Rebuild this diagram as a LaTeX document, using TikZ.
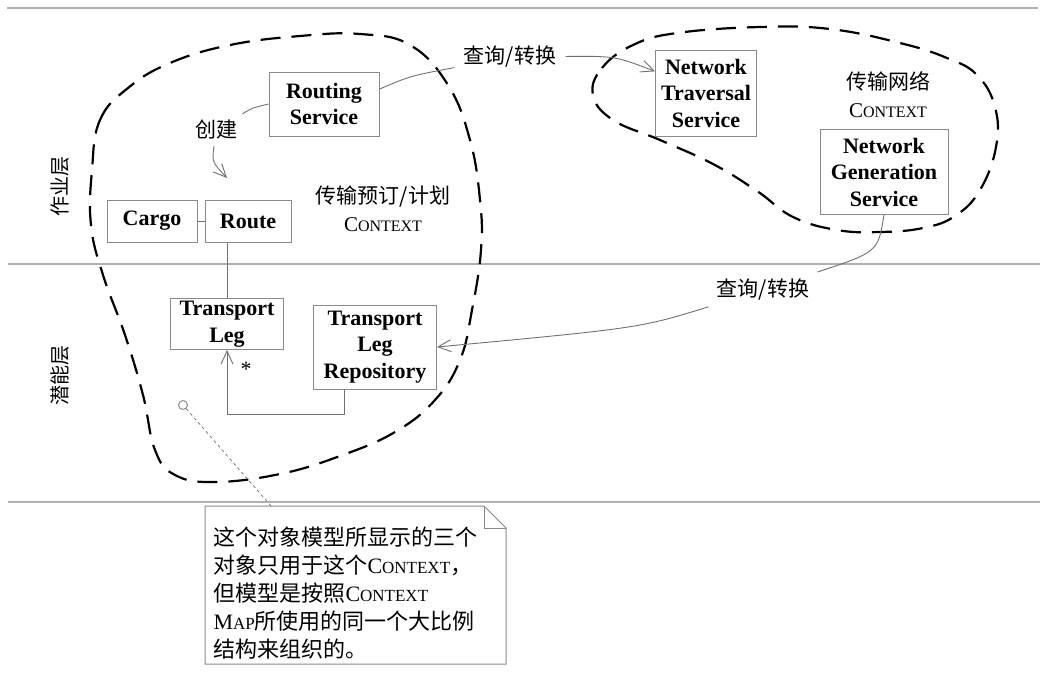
\documentclass[tikz,border=0pt]{standalone}
\usepackage{fontspec}
\setmainfont{Liberation Serif}
\newfontfamily\cjk{Noto Sans CJK SC}
\usetikzlibrary{arrows.meta, calc}
\definecolor{cbox}{HTML}{8A8A8A}
\definecolor{clink}{HTML}{707070}
\definecolor{cline}{HTML}{B0B0B0}
\newcommand{\boxfont}{\fontsize{22}{26.5}\selectfont\bfseries}
\newcommand{\smallcap}[2][16]{{\fontsize{#1}{#1}\selectfont #2}}
\newcommand{\ctxw}[1][16]{C\smallcap[#1]{ONTEXT}}
\tikzset{
  every picture/.style={line width=1pt},
  cls/.style={draw=cbox, fill=white, align=center, font=\boxfont, inner sep=0pt},
  link/.style={draw=clink, line width=0.9pt},
  openarrow/.style={link, -{Straight Barb[length=13pt, width=12pt]}},
  ctxlabel/.style={align=center, font=\fontsize{21}{28}\selectfont},
  verb/.style={font=\cjk\fontsize{21}{21}\selectfont, inner sep=6pt},
  layer/.style={font=\cjk\fontsize{20}{20}\selectfont, rotate=90},
}

\begin{document}
\begin{tikzpicture}[
    x=1pt, y=-1pt,
    blob/.style={draw=black, line width=2.2pt, dash pattern=on 20pt off 11pt},
    layerline/.style={draw=cline, line width=1.4pt},
    notebox/.style={minimum width=300pt, minimum height=157pt, inner sep=0pt},
    noteedge/.style={draw=cbox, fill=white, line width=1pt},
    notetext/.style={align=left, inner sep=0pt, font=\fontsize{22}{28}\selectfont},
    notedot/.style={circle, draw=cbox, fill=white, minimum size=9pt, inner sep=0pt},
    noteline/.style={draw=clink, line width=0.7pt, dashed},
  ]
  \useasboundingbox (0,0) rectangle (1050,673);

  % layers
  \draw[layerline] (7,8) -- (1038,8);
  \draw[layerline] (8,264) -- (1040,264);
  \draw[layerline] (8,502) -- (1040,502);
  \node[layer] (oplayer) at (60,186) {作业层};
  \node[layer] (potlayer) at (60,375) {潜能层};

  % booking context
  \draw[blob] plot[smooth cycle, tension=0.7] coordinates {
    (92,170) (100,120) (128,88) (170,63) (230,45) (300,36) (360,34) (410,45)
    (448,85) (470,140) (480,200) (481,250) (472,310) (460,360) (435,400)
    (395,432) (340,456) (280,474) (215,482) (175,475) (155,450) (143,395)
    (125,335) (103,275) (91,225)};
  \node[cls, minimum width=110pt, minimum height=64pt] (routing) at (324,104) {Routing\\Service};
  \node[cls, minimum width=90pt, minimum height=42pt] (cargo) at (152,221) {Cargo};
  \node[cls, minimum width=86pt, minimum height=42pt] (route) at (248,221) {Route};
  \node[cls, minimum width=113pt, minimum height=51pt] (tleg) at (227,324) {Transport\\Leg};
  \node[cls, minimum width=123pt, minimum height=84pt] (repo) at (375,347) {Transport\\Leg\\Repository};
  \node[ctxlabel] (bookctx) at (383,209) {{\cjk 传输预订/计划}\\\ctxw};
  \node[verb] (create) at (216,130) {创建};
  \coordinate (newroute) at (227,178);
  \node[font=\fontsize{22}{22}\selectfont, inner sep=0pt] (many) at (246,369) {*};

  \draw[link] (routing.west) .. controls (252,108) .. (create);
  \draw[openarrow] (create) .. controls (212,162) .. (newroute);
  \draw[link] (cargo) -- (route);
  \draw[link] (route.south -| tleg.north) -- (tleg.north);
  \draw[openarrow] ([xshift=-31pt]repo.south) -- ++(0,25) -| (tleg.south);

  % network context
  \draw[blob] plot[smooth cycle, tension=0.7] coordinates {
    (593,95) (602,68) (633,45) (677,33) (760,27) (830,29) (900,43) (947,58)
    (977,75) (995,107) (996,147) (980,190) (955,216) (923,228) (880,232)
    (837,230) (793,217) (757,191) (713,164) (660,140) (613,120)};
  \node[cls, minimum width=101pt, minimum height=86pt] (nettrav) at (706,93) {Network\\Traversal\\Service};
  \node[cls, minimum width=128pt, minimum height=85pt] (netgen) at (884,172) {Network\\Generation\\Service};
  \node[ctxlabel] (netctx) at (888,95) {{\cjk 传输网络}\\\ctxw};

  % queries between contexts
  \node[verb, inner sep=9pt] (query1) at (510,57) {查询/转换};
  \node[verb, inner sep=8pt] (query2) at (763,290) {查询/转换};
  \draw[link] (routing.15) .. controls (410,76) .. (query1);
  \draw[openarrow] (query1) .. controls (615,56) .. (nettrav.157);
  \draw[link] (netgen.south) .. controls (878,252) .. (query2);
  \draw[openarrow] (query2) .. controls (640,328) .. (repo.east);

  % note
  \node[notebox] (note) at (355.5,585) {};
  \draw[noteedge] (note.south west) -- (note.north west) -- ([xshift=-22pt]note.north east)
    -- ([yshift=-22pt]note.north east) -- (note.south east) -- cycle;
  \draw[noteedge, fill=none] ([xshift=-22pt]note.north east) -- ++(0,22) -- ([yshift=-22pt]note.north east);
  \node[notetext, anchor=west] (notetxt) at (213,593) {%
    {\cjk 这个对象模型所显示的三个}\\
    {\cjk 对象只用于这个}\ctxw[17]{\cjk ，}\\
    {\cjk 但模型是按照}\ctxw[17]\\
    M\smallcap[17]{AP}{\cjk 所使用的同一个大比例}\\
    {\cjk 结构来组织的。}};
  \node[notedot] (notept) at (183,405) {};
  \coordinate (notetip) at ($(note.north west)+(66,0)$);
  \draw[noteline] (notept) -- (notetip);
\end{tikzpicture}
\end{document}
